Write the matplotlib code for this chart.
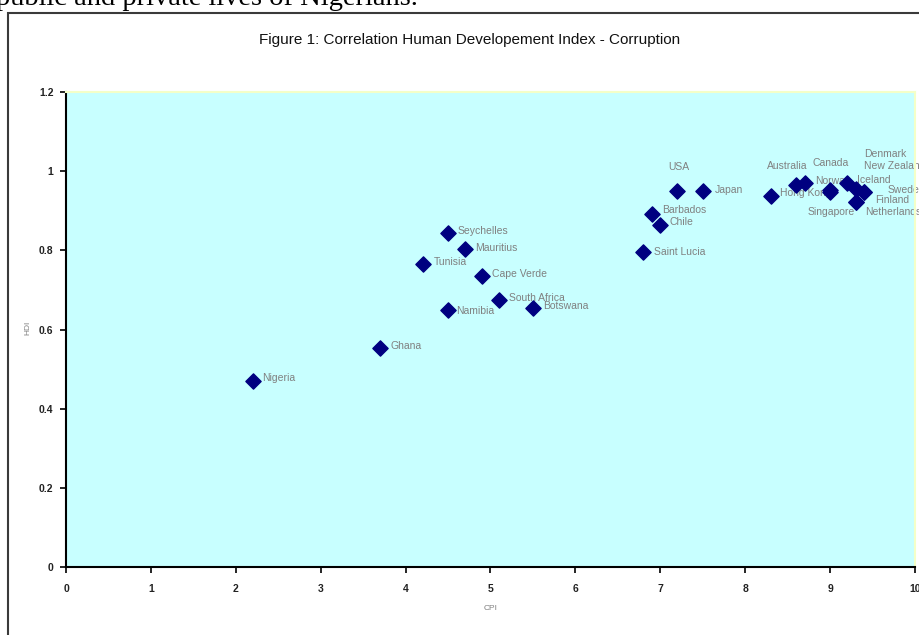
import matplotlib
matplotlib.use('Agg')
import matplotlib.pyplot as plt
from matplotlib.patches import Rectangle
from matplotlib.ticker import FuncFormatter

plt.rcParams['font.family'] = ['Liberation Sans', 'DejaVu Sans']

# data: CPI (x) and HDI (y) per country
countries = ['Nigeria', 'Ghana', 'Tunisia', 'Seychelles', 'Mauritius', 'Namibia',
             'Cape Verde', 'South Africa', 'Botswana', 'Saint Lucia', 'Barbados',
             'Chile', 'USA', 'Japan', 'Hong Kong', 'Australia', 'Canada', 'Norway',
             'Singapore', 'Iceland', 'Denmark', 'New Zealand', 'Sweden', 'Finland',
             'Netherlands']
cpi = [2.2, 3.7, 4.2, 4.5, 4.7, 4.5,
       4.9, 5.1, 5.5, 6.8, 6.9,
       7.0, 7.2, 7.5, 8.3, 8.6, 8.7, 9.0,
       9.0, 9.2, 9.3, 9.4, 9.4, 9.3,
       9.3]
hdi = [0.470, 0.553, 0.766, 0.843, 0.804, 0.650,
       0.736, 0.674, 0.654, 0.795, 0.892,
       0.865, 0.951, 0.951, 0.937, 0.965, 0.969, 0.953,
       0.948, 0.969, 0.954, 0.948, 0.948, 0.923,
       0.923]

x_ticks = [0, 1, 2, 3, 4, 5, 6, 7, 8, 9, 10]
y_ticks = [0, 0.2, 0.4, 0.6, 0.8, 1.0, 1.2]

# label offsets in pixels (dx right, dy up) from the marker
label_offset = {
    'Nigeria': (9, 2.5), 'Ghana': (10.5, 2), 'Tunisia': (11.5, 2),
    'Seychelles': (9.5, 2), 'Mauritius': (10, 1), 'Namibia': (8, -1),
    'Cape Verde': (9.5, 2), 'South Africa': (10, 2.5), 'Botswana': (10.5, 2.3),
    'Saint Lucia': (10.5, 0.5), 'Barbados': (10, 3.5), 'Chile': (9.5, 3),
    'USA': (-8.7, 23.4), 'Japan': (11.6, 1), 'Hong Kong': (9.3, 3),
    'Australia': (-29, 19), 'Canada': (7.4, 20), 'Norway': (-15, 9),
    'Singapore': (-23, -20), 'Iceland': (10, 3.5), 'Denmark': (8.4, 35.4),
    'New Zealand': (0, 26), 'Sweden': (24, 2), 'Finland': (19.4, 1.7),
    'Netherlands': (9.4, -10.3),
}

W, H = 920, 635
fig = plt.figure(figsize=(W / 100, H / 100), dpi=100)
fig.patch.set_facecolor('white')

# bit of the document text above the chart
fig.text(-4 / W, 1 - 5 / H, 'public and private lives of Nigerians.',
         family=['Liberation Serif', 'DejaVu Serif'], fontsize=20.5,
         ha='left', va='baseline', color='black')

# chart frame
fig.patches.append(Rectangle((8 / W, -0.1), 1.2, (H - 13) / H + 0.1,
                             transform=fig.transFigure, fill=False,
                             edgecolor='#3a3a3a', linewidth=1.5))

fig.text(470 / W, 1 - 40 / H, 'Figure 1: Correlation Human Developement Index - Corruption',
         ha='center', va='center', fontsize=11, color='#111111')

ax = fig.add_axes([66 / W, 1 - 567 / H, 849 / W, 475 / H])
ax.set_facecolor('#C8FFFF')
ax.scatter(cpi, hdi, marker='D', s=60, color='#000080', zorder=3)

for name, x, y in zip(countries, cpi, hdi):
    dx, dy = label_offset[name]
    ax.annotate(name, (x, y), xytext=(dx * 0.72, dy * 0.72),
                textcoords='offset points', ha='left', va='center',
                fontsize=7.5, color='#808080', zorder=2)

ax.set_xlim(0, 10)
ax.set_ylim(0, 1.2)
ax.set_xticks(x_ticks)
ax.set_yticks(y_ticks)
ax.yaxis.set_major_formatter(FuncFormatter(lambda v, p: '%g' % round(v, 1)))
ax.tick_params(direction='out', length=4, width=1.2, colors='black',
               labelsize=7.5, pad=5)
for lab in ax.get_xticklabels() + ax.get_yticklabels():
    lab.set_fontweight('bold')
    lab.set_color('#222222')
ax.tick_params(axis='x', pad=8)

for s in ['left', 'bottom']:
    ax.spines[s].set_linewidth(1.5)
    ax.spines[s].set_color('black')
for s in ['top', 'right']:
    ax.spines[s].set_color('#F4FFC8')
    ax.spines[s].set_linewidth(1.5)

fig.text(28 / W, 1 - 328 / H, 'HDI', rotation=90, ha='center', va='center',
         fontsize=6, color='#808080')
fig.text(491 / W, 1 - 609 / H, 'CPI', ha='center', va='center',
         fontsize=6, color='#808080')

plt.savefig('out.png', dpi=100)
